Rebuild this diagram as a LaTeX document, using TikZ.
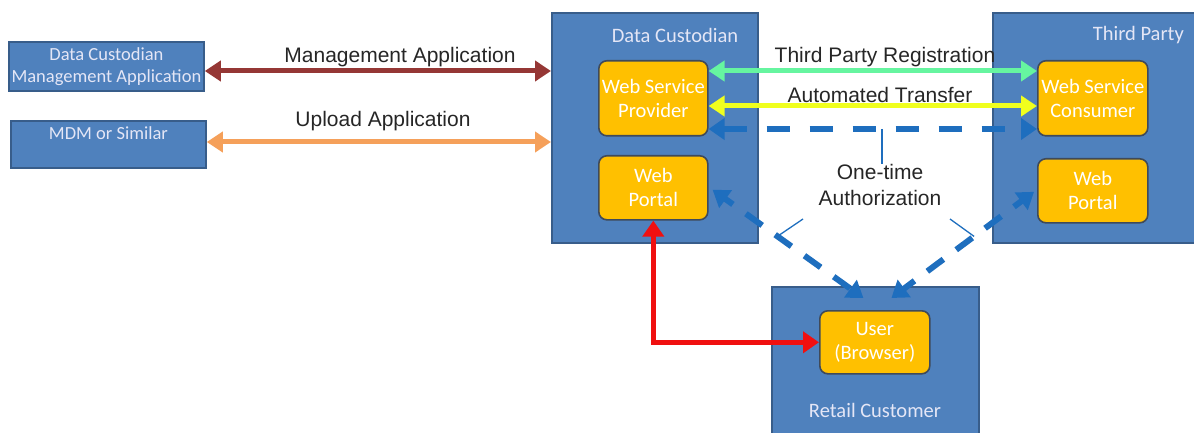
\documentclass[tikz,border=0pt]{standalone}
\usepackage{fontspec}
\setmainfont{Carlito}
\newfontfamily\arialf{Liberation Sans}
\usetikzlibrary{arrows.meta,calc}
\definecolor{boxblue}{HTML}{4F81BD}
\definecolor{boxedge}{HTML}{385D8A}
\definecolor{gold}{HTML}{FFC000}
\definecolor{goldedge}{HTML}{3F4A5A}
\definecolor{lbltxt}{HTML}{E4E6F6}
\definecolor{mgmtred}{HTML}{953735}
\definecolor{uploadorange}{HTML}{F5A05A}
\definecolor{regigreen}{HTML}{66F5A0}
\definecolor{autoyellow}{HTML}{F0FF1E}
\definecolor{dashblue}{HTML}{1E6EBE}
\definecolor{linkred}{HTML}{F01010}
\begin{document}
\begin{tikzpicture}[x=1pt,y=-1pt,
  bluebox/.style={draw=boxedge,line width=1.8pt,fill=boxblue,anchor=north west,inner sep=0pt},
  goldbox/.style={draw=goldedge,line width=1.6pt,fill=gold,rounded corners=8pt,anchor=north west,
    inner sep=0pt,text=white,align=center,font=\fontsize{20.5}{24}\selectfont},
  boxlabel/.style={text=lbltxt,font=\fontsize{20.5}{24}\selectfont,inner sep=0pt},
  smalltxt/.style={text=lbltxt,font=\fontsize{18.5}{22}\selectfont,align=center,inner sep=0pt},
  arrlabel/.style={font=\arialf\fontsize{21}{26}\selectfont,text=black!85,align=center,inner sep=0pt},
  conn/.style={line width=5pt,{Triangle[length=16pt,width=20pt]}-{Triangle[length=16pt,width=20pt]}},
  authdash/.style={line width=6pt,dash pattern=on 23pt off 20pt,dashblue,
    {Triangle[length=16pt,width=21pt]}-{Triangle[length=16pt,width=21pt]}},
  callout/.style={draw=dashblue,line width=1.3pt}
]
\useasboundingbox (0,0) rectangle (1194,433);

% left boxes
\node[bluebox,minimum width=195,minimum height=49] (dcma) at (8,41) {};
\node[smalltxt] at (dcma.center) {Data Custodian\\Management Application};
\node[bluebox,minimum width=195,minimum height=47] (mdm) at (10,120) {};
\node[smalltxt] at ($(mdm.north)+(0,13)$) {MDM or Similar};

% big boxes
\node[bluebox,minimum width=206,minimum height=230] (dc) at (551,12) {};
\node[boxlabel] at (675,35) {Data Custodian};
\node[bluebox,minimum width=202,minimum height=230] (tp) at (992,12) {};
\node[boxlabel,anchor=east] at (1184,35) {Third Party};
\node[bluebox,minimum width=207,minimum height=160] (rc) at (771,286) {};
\node[boxlabel] at (875,410) {Retail Customer};

% inner boxes
\node[goldbox,minimum width=109,minimum height=75] (wsp) at (598,60) {Web Service\\Provider};
\node[goldbox,minimum width=109,minimum height=64] (wp) at (598,155) {Web\\Portal};
\node[goldbox,minimum width=110,minimum height=75] (wsc) at (1037,60) {Web Service\\Consumer};
\node[goldbox,minimum width=110,minimum height=64] (tpwp) at (1037,158) {Web\\Portal};
\node[goldbox,minimum width=110,minimum height=63] (user) at (819,310) {User\\(Browser)};

% connectors
\draw[conn,mgmtred] (dcma.east |- 0,71) -- (dc.west |- 0,71);
\node[arrlabel] at (400,57) {Management Application};
\draw[conn,uploadorange] (mdm.east |- 0,142) -- (dc.west |- 0,142);
\node[arrlabel] at (383,121) {Upload Application};
\draw[conn,regigreen] (wsp.east |- 0,71) -- (wsc.west |- 0,71);
\node[arrlabel] at (885,57) {Third Party Registration};
\draw[conn,autoyellow] (wsp.east |- 0,106) -- (wsc.west |- 0,106);
\node[arrlabel] at (880,95) {Automated Transfer};

\draw[authdash] (wsp.east |- 0,129) -- (wsc.west |- 0,129);
\coordinate (ls) at ($(wp.east)+(4,2)$);
\coordinate (rs) at ($(tpwp.west)+(-3,1)$);
\coordinate (la) at ($(rc.north)+(-12,12)$);
\coordinate (ra) at ($(rc.north)+(16,12)$);
\draw[authdash,dash pattern=on 20pt off 16pt,dash phase=10pt] (ls) -- (la);
\draw[authdash,dash pattern=on 20pt off 16pt,dash phase=10pt] (rs) -- (ra);

\draw[linkred,line width=5pt,{Triangle[length=16pt,width=21pt]}-{Triangle[length=16pt,width=21pt]}]
  (wp.south) -- (wp.south |- user.west) -- (user.west);

% callout
\node[arrlabel] (auth) at (880,185) {One-time\\Authorization};
\coordinate (c0) at (882,129);
\draw[callout] (c0) -- (882,164);
\draw[callout] ($(ls)!0.43!(la)$) -- (803,219);
\draw[callout] ($(rs)!0.42!(ra)$) -- (950,219);
\end{tikzpicture}
\end{document}
